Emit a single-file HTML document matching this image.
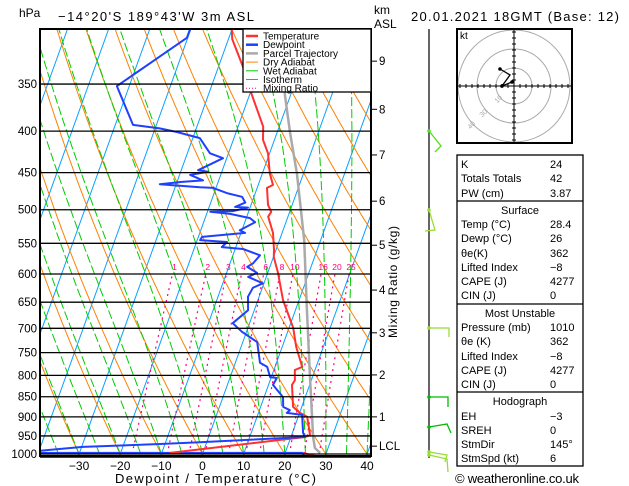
<!DOCTYPE html>
<html><head><meta charset="utf-8"><style>
html,body{margin:0;padding:0;background:#fff;}
svg{display:block;font-family:"Liberation Sans",sans-serif;}
</style></head><body>
<svg id="chart" width="629" height="486" viewBox="0 0 629 486" xmlns="http://www.w3.org/2000/svg">
<defs><clipPath id="plotclip"><rect x="40" y="29" width="331" height="428"/></clipPath>
<clipPath id="hodoclip"><rect x="458" y="30" width="113" height="112"/></clipPath></defs>
<rect width="629" height="486" fill="#fff"/>
<text x="19" y="17" font-size="12">hPa</text>
<text x="58" y="21" font-size="13" textLength="196">−14°20'S  189°43'W  3m ASL</text>
<text x="374" y="14" font-size="12">km</text>
<text x="374" y="28" font-size="12">ASL</text>
<text x="411" y="21" font-size="13" textLength="208">20.01.2021  18GMT  (Base: 12)</text>
<g id="grid" clip-path="url(#plotclip)"></g>
<g id="series" clip-path="url(#plotclip)"></g>
<g id="axes"></g>
<g id="legend"></g>
<g id="winds"></g>
<g id="hodo"></g>
<g id="table"></g>
<text x="455" y="483" font-size="13" textLength="124">© weatheronline.co.uk</text>
</svg>
<script>
// ---- data ----
const pressureLevels=[350,400,450,500,550,600,650,700,750,800,850,900,950,1000];
const tempTicks=[-30,-20,-10,0,10,20,30,40];
const kmLabels=["9","8","7","6","5","4","3","2","1","LCL"];
const kmPressures=[328,376,428,488,553,628,709,799,900,978];
const mixRatios=[1,2,3,4,6,8,10,16,20,25];
const tempP=[300,308,334,361,395,410,426,451,466,470,493,503,510,534,560,572,598,646,699,738,781,788,811,822,875,890,900,948,953,997];
const tempT=[-30,-29.1,-23.9,-19.4,-13.9,-12.8,-10.4,-8.2,-6.4,-7.6,-5.9,-4.5,-4.8,-2.2,-0.5,0.1,2.5,6.1,11,13.4,16.6,15.1,16,15.7,17.9,20.1,22.2,24.5,23.4,-8];
const tempSfcP=[997,1011];
const tempSfcT=[24.3,29.4];
const dewP=[300,307,352,393,397,401,408,426,432,447,449,453,460,462,465,469,470,477,482,490,496,497,502,503,506,512,518,530,534,540,545,548,556,559,569,582,588,598,605,616,624,640,665,690,707,728,772,781,804,806,822,851,875,883,890,895,942,953,967,972,980,991];
const dewT=[-40.2,-40.2,-53,-45.7,-38.9,-34.4,-28.3,-24.5,-20.9,-25.9,-23.3,-27.4,-23.8,-28.8,-34,-24,-20.7,-16.9,-12.9,-11.6,-13.7,-10.5,-13.9,-19.3,-14.3,-9.1,-7.5,-10.5,-9,-19.1,-19.3,-12.6,-13.4,-8.1,-3.4,-4.4,-5.5,-2.6,-4.4,-0.3,-2.3,-2.7,-1.5,-4.1,-1.1,3.5,6,8.1,9.7,11.4,11.1,14.6,15.5,17.4,16.9,20.8,22.6,23.4,-1.7,-11.2,-29.7,-39.8];
const dewBaseP=[997,997];
const dewBaseT=[-39.6,24.3];
const dewSfcP=[1003,1011];
const dewSfcT=[24.3,27];
const parcelP=[997,983,953,795,659,545,451,402,361,300];
const parcelT=[28.5,26.8,25.4,19,12.5,6,-1.6,-6.8,-11.4,-17.9];
const isothermTs=[-120,-110,-100,-90,-80,-70,-60,-50,-40,-30,-20,-10,0,10,20,30,40];
const dryThetaC=[-60,-50,-40,-30,-20,-10,0,10,20,30,40,50,60,70,80,90,100,110,120,130,140,150,160];
const wetStartT=[-40,-35,-30,-25,-20,-15,-10,-5,0,5,10,15,20,25,30,35,40,45];
// ---- axes ----
const NS="http://www.w3.org/2000/svg";
function yP(p){return 454-352.4*Math.log(1000/p);}
function xT(T,p){return 202.5+4.114*T+0.36*(454-yP(p));}
function el(tag,attrs,parent,txt){const e=document.createElementNS(NS,tag);for(const k in attrs)e.setAttribute(k,attrs[k]);if(txt!==undefined)e.textContent=txt;parent.appendChild(e);return e;}
function pts(P,T){return P.map((p,i)=>xT(T[i],p).toFixed(1)+","+yP(p).toFixed(1)).join(" ");}
const grid=document.getElementById('grid'),series=document.getElementById('series'),axes=document.getElementById('axes');
// isotherms
isothermTs.forEach(T=>{
 const l=el('line',{x1:xT(T,1010),y1:yP(1010),x2:xT(T,295),y2:yP(295),stroke:'#0aa0ff','stroke-width':1},grid);
 
 
});
// dry adiabats
dryThetaC.forEach(tc=>{
 const th=tc+273.15;const P=[],T=[];
 for(let p=1010;p>=295;p-=5){P.push(p);T.push(th*Math.pow(p/1000,0.286)-273.15);}
 const l=el('polyline',{points:pts(P,T),fill:'none',stroke:'#ff8000','stroke-width':1},grid);
 
 
});
// wet adiabats
function es(Tc){return 6.112*Math.exp(17.67*Tc/(Tc+243.5));}
wetStartT.forEach(t0=>{
 let T=t0+273.15;const P=[],TT=[];
 for(let p=1000;p>=295;p-=5){
  P.push(p);TT.push(T-273.15);
  const rs=0.622*es(T-273.15)/(p-es(T-273.15));
  const Rd=287,cp=1005,L=2.5e6;
  const dTdp=(Rd*T+L*rs)/(p*(cp+L*L*rs*0.622/(Rd*T*T)));
  T-=dTdp*5;
 }
 const l=el('polyline',{points:pts(P,TT),fill:'none',stroke:'#00cc00','stroke-width':1,'stroke-dasharray':'9,3'},grid);
 
 
});
// mixing ratio
function tdFromW(w,p){const e=w*p/(622+w);const a=Math.log(e/6.112);return 243.5*a/(17.67-a);}
mixRatios.forEach(w=>{
 const P=[],T=[];for(let p=1000;p>=600;p-=10){P.push(p);T.push(tdFromW(w,p));}
 const l=el('polyline',{points:pts(P,T),fill:'none',stroke:'#ff0080','stroke-width':1.2,'stroke-dasharray':'2,4'},grid);
 
 
 const t=el('text',{x:xT(tdFromW(w,600),600)+2,y:yP(600)-4,'font-size':8.5,fill:'#ff0080','text-anchor':'middle'},grid,String(w));
 
 
});
// pressure lines
pressureLevels.forEach(p=>{
 const l=el('line',{x1:40,x2:371,y1:yP(p),y2:yP(p),stroke:'#000','stroke-width':1.3},axes);
 
 
 const t=el('text',{x:37,y:yP(p)+4,'font-size':11.5,'text-anchor':'end'},axes,String(p));
 
 
});
// series
function line(P,T,color,w,name){const l=el('polyline',{points:pts(P,T),fill:'none',stroke:color,'stroke-width':w,'stroke-linejoin':'round'},series);
 
 }
line(parcelP,parcelT,'#aaaaaa',2.5,'parcel-trajectory-line');
line(dewBaseP,dewBaseT,'#2040ff',2,'dewpoint-base-line');
line(tempP,tempT,'#ff3030',2,'temperature-line');
line(tempSfcP,tempSfcT,'#ff3030',2,'temperature-surface-line');
line(dewP,dewT,'#2040ff',2,'dewpoint-line');
line(dewSfcP,dewSfcT,'#2040ff',2,'dewpoint-surface-line');
// frame
const fr=el('rect',{x:40,y:29,width:331,height:427,fill:'none',stroke:'#000','stroke-width':2},axes);


el('line',{x1:40,x2:371,y1:456.5,y2:456.5,stroke:'#000','stroke-width':2.5},axes);
// x ticks
tempTicks.forEach(T=>{
 const t=el('text',{x:xT(T,1000),y:470,'font-size':12,'text-anchor':'middle'},axes,(T<0?'−':'')+Math.abs(T));
 
 
});
const xt=el('text',{x:115,y:483,'font-size':13,textLength:201},axes,'Dewpoint / Temperature (°C)');


// km axis
kmLabels.forEach((k,i)=>{
 const y=yP(kmPressures[i]);
 el('line',{x1:371,x2:377,y1:y,y2:y,stroke:'#000','stroke-width':1},axes);
 const t=el('text',{x:379,y:y+4,'font-size':11.5},axes,k);
 
 
});
const mr=el('text',{x:0,y:0,'font-size':12,transform:'translate(397,282) rotate(-90)','text-anchor':'middle',textLength:112},axes,'Mixing Ratio (g/kg)');


// legend
const lg=document.getElementById('legend');
el('rect',{x:243,y:29,width:128,height:63,fill:'#fff',stroke:'#000','stroke-width':1.3},lg);
const legItems=[['Temperature','#ff3030',2.5,''],['Dewpoint','#2040ff',2.5,''],['Parcel Trajectory','#aaaaaa',2.5,''],['Dry Adiabat','#ff8000',1,''],['Wet Adiabat','#00cc00',1,''],['Isotherm','#0aa0ff',1,''],['Mixing Ratio','#ff0080',1,'1,2']];
legItems.forEach((it,i)=>{
 const y=36+i*8.7;
 const g=el('g',{},lg);
 
 
 el('line',{x1:246,x2:258,y1:y,y2:y,stroke:it[1],'stroke-width':it[2],'stroke-dasharray':it[3]||'none'},g);
 el('text',{x:263,y:y+3.5,'font-size':10},g,it[0]);
});
// winds
const wg=document.getElementById('winds');
el('line',{x1:429,x2:429,y1:29,y2:458,stroke:'#000','stroke-width':1.2},wg);
const barbs=[
 ['#55dd22',[[429,131],[441,146],[435,152]]],
 ['#99dd33',[[429,210],[435,230],[425,231]]],
 ['#99dd33',[[429,328],[449,328],[449,337]]],
 ['#00bb00',[[429,397],[448,397],[448,407]]],
 ['#00bb00',[[429,427],[447,424],[451,433]]],
 ['#99dd33',[[429,455],[447,459],[448,472]]],
 ['#99dd33',[[429,452],[447,455],[445,462]]]];
barbs.forEach(b=>{
 const g=el('g',{},wg);
 
 
 el('polyline',{points:b[1].map(p=>p.join(',')).join(' '),fill:'none',stroke:b[0],'stroke-width':1.3},g);
 el('circle',{cx:b[1][0][0],cy:b[1][0][1],r:1.8,fill:b[0]},g);
});
// hodograph
const hg=document.getElementById('hodo');


const hc=el('g',{'clip-path':'url(#hodoclip)'},hg);
[18,37,56].forEach(r=>el('circle',{cx:514,cy:86,r:r,fill:'none',stroke:'#aaa','stroke-width':1},hc));
el('line',{x1:457,x2:572,y1:86,y2:86,stroke:'#000','stroke-width':1},hc);
el('line',{x1:514,x2:514,y1:29,y2:143,stroke:'#000','stroke-width':1},hc);
for(let d=-54;d<=54;d+=6){if(d===0)continue;el('line',{x1:514+d,x2:514+d,y1:84,y2:88,stroke:'#000'},hc);el('line',{x1:512,x2:516,y1:86+d,y2:86+d,stroke:'#000'},hc);}
el('text',{x:495,y:102,'font-size':7,fill:'#aaa',transform:'rotate(-45 498 100)'},hc,'10');
el('text',{x:480,y:116,'font-size':7,fill:'#aaa',transform:'rotate(-45 483 114)'},hc,'30');
el('text',{x:468,y:128,'font-size':7,fill:'#aaa',transform:'rotate(-45 471 126)'},hc,'40');
el('polyline',{points:'500,69 510,75 502,86 512,82',fill:'none',stroke:'#000','stroke-width':1.3},hc);
el('circle',{cx:500,cy:69,r:1.8},hc);el('circle',{cx:502,cy:86,r:1.8},hc);el('circle',{cx:512,cy:82,r:1.8},hc);
el('rect',{x:457,y:29,width:115,height:114,fill:'none',stroke:'#000','stroke-width':2},hg);
el('text',{x:460,y:39,'font-size':10},hg,'kt');
// table
const tg=document.getElementById('table');


el('rect',{x:457,y:155,width:126,height:311,fill:'none',stroke:'#000','stroke-width':1.3},tg);
[201,304,392].forEach(y=>el('line',{x1:457,x2:583,y1:y,y2:y,stroke:'#000','stroke-width':1.3},tg));
const rows=[['K','24'],['Totals Totals','42'],['PW (cm)','3.87'],['#Surface'],['Temp (°C)','28.4'],['Dewp (°C)','26'],['θe(K)','362'],['Lifted Index','−8'],['CAPE (J)','4277'],['CIN (J)','0'],['#Most Unstable'],['Pressure (mb)','1010'],['θe (K)','362'],['Lifted Index','−8'],['CAPE (J)','4277'],['CIN (J)','0'],['#Hodograph'],['EH','−3'],['SREH','0'],['StmDir','145°'],['StmSpd (kt)','6']];
const rowY=[164,178,193,210,224,238,253,267,281,295,313,327,341,356,370,384,401,416,430,444,458];
rows.forEach((r,i)=>{
 const y=rowY[i]+4;
 if(r[0][0]==='#'){const t=el('text',{x:520,y:y,'font-size':11,'text-anchor':'middle'},tg,r[0].slice(1));
  
  return;}
 const a=el('text',{x:461,y:y,'font-size':11},tg,r[0]);
 
 
 const b=el('text',{x:550,y:y,'font-size':11},tg,r[1]);
 
 
});
</script>
</body></html>
